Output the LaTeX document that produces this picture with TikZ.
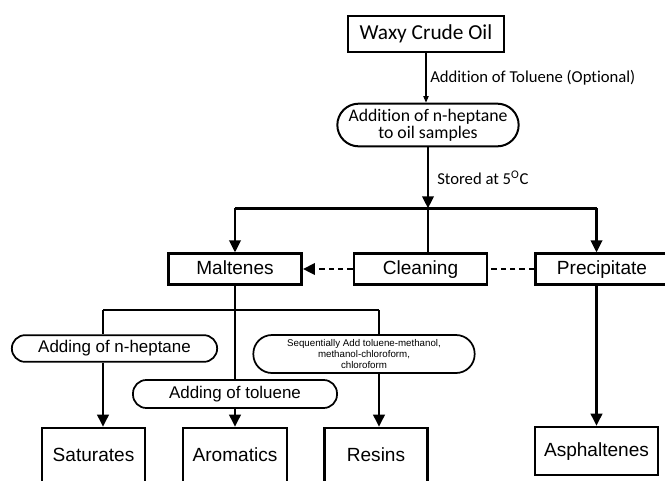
\documentclass[tikz,border=0pt]{standalone}
\usepackage{fontspec}
\setmainfont{Liberation Sans}
\newfontfamily\calibrifont[Ligatures=NoCommon]{Carlito}
\usepackage{tikz}
\usetikzlibrary{
    arrows.meta,
    positioning,
    calc
}
\tikzset{
    % Base style for all boxes
    flow base/.style={
        font=\fontsize{14.3}{16}\selectfont,
        align=center,
        text=black,
        inner sep=1pt,
    },
    % Plain square boxes
    process/.style={
        flow base,
        rectangle,
        draw=black,
        line width=1.9pt,
        text height=10.3pt,
        text depth=2.6pt,
        minimum width=100pt,
        minimum height=23pt,
    },
    % Product boxes at the bottom
    product/.style={
        process,
        minimum width=77pt,
        minimum height=42pt,
    },
    % Rounded boxes for the reagent steps
    reagent/.style={
        flow base,
        rectangle,
        rounded corners=10pt,
        draw=black,
        line width=1.3pt,
        font=\fontsize{12.7}{14}\selectfont,
    },
    % Top boxes in Calibri look
    top box/.style={
        flow base,
        draw=black,
        line width=1.5pt,
        font=\calibrifont\fontsize{13.3}{13}\selectfont,
    },
    % Solid arrow
    arrow/.style={
        -{Triangle[length=9pt, width=8.5pt]},
        line width=1.9pt,
        draw=black,
    },
    % Thin arrow
    arrow thin/.style={
        -{Triangle[length=5pt, width=4pt]},
        line width=0.9pt,
        draw=black,
    },
    % Plain line
    link/.style={
        line width=1.9pt,
        draw=black,
    },
    % Dashed arrow variant
    arrow dashed/.style={
        arrow,
        dash pattern=on 4pt off 3pt,
    },
    % Dashed line variant
    link dashed/.style={
        link,
        dash pattern=on 4pt off 3pt,
    },
    % Labels beside the arrows
    edge label/.style={
        font=\calibrifont\fontsize{12.5}{14}\selectfont,
        anchor=west,
        inner sep=0pt,
    },
}

\begin{document}
\begin{tikzpicture}[x=0.75pt, y=-0.75pt]
    \fill [white] (0,0) rectangle (665,480);
    \useasboundingbox (0,0) rectangle (665,480);

    \node (crude) [top box, font=\calibrifont\fontsize{16}{18}\selectfont,
        minimum width=117pt, minimum height=27pt] at (426,34) {Waxy Crude Oil};
    \node (heptane) [top box, rounded corners=16pt,
        minimum width=136pt, minimum height=32pt] at (428,125) {Addition of n-heptane\\to oil samples};

    \node (maltenes) [process] at (235,269) {Maltenes};
    \node (cleaning) [process] at (420.5,269) {Cleaning};
    \node (precip) [process] at (602,269) {Precipitate};

    \node (nhep) [reagent, minimum width=154pt, minimum height=20pt] at (114.5,348.5) {Adding of n-heptane};
    \node (toluene) [reagent, minimum width=153pt, minimum height=21pt] at (235,394) {Adding of toluene};
    \node (seq) [reagent, rounded corners=14pt, font=\fontsize{7.3}{8}\selectfont,
        minimum width=166pt, minimum height=28.5pt] at (364,354) {Sequentially Add toluene-methanol,\\methanol-chloroform,\\chloroform};

    \node (saturates) [product] at (93.5,456) {Saturates};
    \node (aromatics) [product, minimum width=78pt] at (235,456) {Aromatics};
    \node (resins) [product] at (376,456) {Resins};
    \node (asph) [product, minimum width=92pt, minimum height=36pt] at (596.5,451) {Asphaltenes};

    \node (tollabel) [edge label] at (430,78) {Addition of Toluene (Optional)};
    \node (storelabel) [edge label] at (437,178) {Stored at 5\textsuperscript{O}C};

    \coordinate (split) at ($(heptane.south)+(0,61)$);
    \coordinate (leftdrop) at (103,310);
    \coordinate (rightdrop) at (379,310);

    \draw [arrow thin] (crude.south) -- (crude.south |- heptane.north);
    \draw [arrow] (heptane.south) -- (split);
    \draw [link] (maltenes.north |- split) -- (asph.north |- split);
    \draw [arrow] (maltenes.north |- split) -- (maltenes.north);
    \draw [arrow] (asph.north |- split) -- (asph.north |- precip.north);
    \draw [link] (split) -- (split |- cleaning.north);

    \draw [arrow dashed] (cleaning.west) -- (maltenes.east);
    \draw [link dashed] (precip.west) -- (cleaning.east);

    \draw [link] (maltenes.south) -- (toluene.north);
    \draw [link] (leftdrop) -- (rightdrop);
    \draw [link] (leftdrop) -- (leftdrop |- nhep.north);
    \draw [link] (rightdrop) -- (rightdrop |- seq.north);
    \draw [arrow] (leftdrop |- nhep.south) -- (leftdrop |- saturates.north);
    \draw [arrow] (toluene) -- (aromatics);
    \draw [arrow] (rightdrop |- seq.south) -- (rightdrop |- resins.north);
    \draw [arrow] (asph.north |- precip.south) -- (asph.north);
\end{tikzpicture}
\end{document}
